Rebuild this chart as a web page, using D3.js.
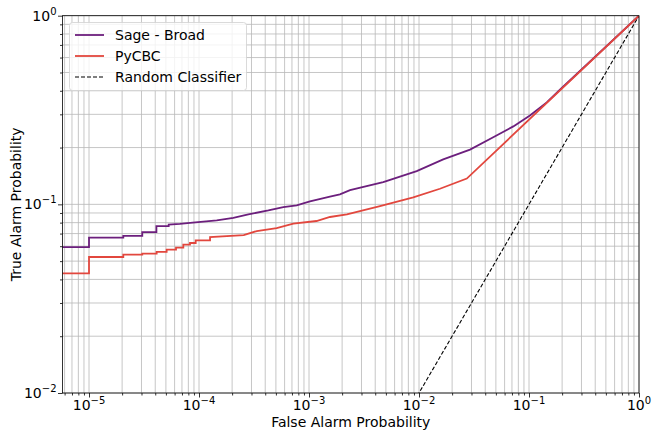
<!DOCTYPE html>
<html><head><meta charset="utf-8">
<script src="https://cdn.jsdelivr.net/npm/d3@7"></script>
<style>body{margin:0;background:#fff} text{font-family:"DejaVu Sans",sans-serif;}</style>
</head><body><svg id="c" width="653" height="430"></svg>
<script>
// ---- data ----
const sageFpr = [5e-6, 1.0e-5, 1.0e-5, 2.05e-5, 2.05e-5, 3.05e-5, 3.05e-5, 4.1e-5, 4.1e-5, 5.3e-5, 5.3e-5, 6.7e-5, 8.3e-5,
  1.45e-4, 2.05e-4, 2.81e-4, 4.27e-4, 5.84e-4, 7.73e-4, 1.02e-3, 1.55e-3, 1.91e-3, 2.36e-3, 4.73e-3, 9.53e-3,
  0.0166, 0.0291, 0.0473, 0.072, 0.102, 0.145, 0.191, 1.0];
const sageTpr = [0.0594, 0.0594, 0.0667, 0.0667, 0.0681, 0.0681, 0.0713, 0.0713, 0.0767, 0.0767, 0.0781, 0.0787, 0.0797,
  0.0822, 0.0847, 0.0885, 0.0929, 0.0968, 0.0988, 0.1037, 0.110, 0.113, 0.119, 0.131, 0.150,
  0.173, 0.195, 0.227, 0.259, 0.296, 0.347, 0.405, 1.0];

const pycbcFpr = [5e-6, 1.0e-5, 1.0e-5, 2.05e-5, 2.05e-5, 3.05e-5, 3.05e-5, 4.12e-5, 4.12e-5, 5.08e-5, 5.08e-5, 6.18e-5, 6.18e-5,
  7.2e-5, 7.2e-5, 8.28e-5, 8.28e-5, 9.33e-5, 9.33e-5, 1.26e-4, 1.26e-4, 2.55e-4, 3.35e-4, 5.08e-4, 7.2e-4, 1.17e-3, 1.55e-3,
  2.21e-3, 4.42e-3, 8.87e-3, 0.0155, 0.0272, 1.0];
const pycbcTpr = [0.0431, 0.0431, 0.0526, 0.0526, 0.0542, 0.0542, 0.0548, 0.0548, 0.0560, 0.0560, 0.0576, 0.0576, 0.0590,
  0.0590, 0.0612, 0.0612, 0.0624, 0.0624, 0.0645, 0.0645, 0.0671, 0.0686, 0.0722, 0.0749, 0.0790, 0.0816, 0.0857,
  0.0885, 0.098, 0.109, 0.121, 0.137, 1.0];

const randomFpr = [1e-6, 1.0];
const randomTpr = [1e-6, 1.0];

const xTickValues = [1e-5, 1e-4, 1e-3, 1e-2, 1e-1, 1e0];
const xTickExps = ["−5", "−4", "−3", "−2", "−1", "0"];
const yTickValues = [1e-2, 1e-1, 1e0];
const yTickExps = ["−2", "−1", "0"];

const seriesNames = ["Sage - Broad", "PyCBC", "Random Classifier"];
const seriesColors = ["#6c1f7d", "#e2473e", "#000000"];

// ---- layout ----
const L = 62.5, R = 639, T = 15.7, B = 393;
const svg = d3.select("#c");
const x = d3.scaleLog().domain([Math.pow(10, -5.241), 1]).range([L, R]);
const y = d3.scaleLog().domain([1e-2, 1]).range([B, T]);

// minor ticks
const xMinor = [], yMinor = [];
for (let e = -6; e < 0; e++) for (let m = 2; m <= 9; m++) { const v = m * Math.pow(10, e); if (v >= x.domain()[0] && v <= 1) xMinor.push(v); }
for (let e = -2; e < 0; e++) for (let m = 2; m <= 9; m++) yMinor.push(m * Math.pow(10, e));

// grid
const g = svg.append("g");
g.selectAll(".gx").data(xMinor.concat(xTickValues)).enter().append("line")
  .attr("x1", d => x(d)).attr("x2", d => x(d)).attr("y1", T).attr("y2", B)
  .attr("stroke", "#b8b8b8").attr("stroke-width", 0.8);
g.selectAll(".gy").data(yMinor.concat(yTickValues)).enter().append("line")
  .attr("y1", d => y(d)).attr("y2", d => y(d)).attr("x1", L).attr("x2", R)
  .attr("stroke", "#b8b8b8").attr("stroke-width", 0.8);

// clip
svg.append("clipPath").attr("id", "clip").append("rect").attr("x", L).attr("y", T).attr("width", R - L).attr("height", B - T);

const line = d3.line().x(d => x(d[0])).y(d => y(d[1]));
const plot = svg.append("g").attr("clip-path", "url(#clip)");
plot.append("path").datum(d3.zip(randomFpr, randomTpr)).attr("d", line)
  .attr("fill", "none").attr("stroke", seriesColors[2]).attr("stroke-width", 1.1).attr("stroke-dasharray", "4,2");
plot.append("path").datum(d3.zip(sageFpr, sageTpr)).attr("d", line)
  .attr("fill", "none").attr("stroke", seriesColors[0]).attr("stroke-width", 1.8);
plot.append("path").datum(d3.zip(pycbcFpr, pycbcTpr)).attr("d", line)
  .attr("fill", "none").attr("stroke", seriesColors[1]).attr("stroke-width", 1.8);

// axes
const xAxis = svg.append("g").attr("transform", `translate(0,${B})`)
  .call(d3.axisBottom(x).tickValues(xTickValues).tickSize(4.5).tickFormat(""));
xAxis.append("g").call(d3.axisBottom(x).tickValues(xMinor).tickSize(2.5).tickFormat(""));
const yAxis = svg.append("g").attr("transform", `translate(${L},0)`)
  .call(d3.axisLeft(y).tickValues(yTickValues).tickSize(4.5).tickFormat(""));
yAxis.append("g").call(d3.axisLeft(y).tickValues(yMinor).tickSize(2.5).tickFormat(""));
svg.selectAll(".domain").attr("stroke", "none");
svg.selectAll(".tick line").attr("stroke", "#000").attr("stroke-width", 0.8);

// frame
svg.append("rect").attr("x", L).attr("y", T).attr("width", R - L).attr("height", B - T)
  .attr("fill", "none").attr("stroke", "#000").attr("stroke-width", 0.8);

// tick labels
xTickValues.forEach((v, i) => {
  const t = svg.append("text").attr("x", x(v)).attr("y", 410).attr("text-anchor", "middle")
    .attr("font-size", 14).attr("fill", "#000");
  t.append("tspan").text("10");
  t.append("tspan").attr("dy", -6).attr("font-size", 10).text(xTickExps[i]);
});
yTickValues.forEach((v, i) => {
  const t = svg.append("text").attr("x", L - 6).attr("y", y(v) + 5).attr("text-anchor", "end")
    .attr("font-size", 14).attr("fill", "#000");
  t.append("tspan").text("10");
  t.append("tspan").attr("dy", -6).attr("font-size", 10).text(yTickExps[i]);
});

// axis labels
svg.append("text").attr("x", (L + R) / 2).attr("y", 427).attr("text-anchor", "middle")
  .attr("font-size", 14).text("False Alarm Probability");
svg.append("text").attr("transform", `translate(21,${(T + B) / 2}) rotate(-90)`).attr("text-anchor", "middle")
  .attr("font-size", 14).text("True Alarm Probability");

// legend
const lg = svg.append("g");
lg.append("rect").attr("x", 69.5).attr("y", 22.5).attr("width", 177).attr("height", 68).attr("rx", 3)
  .attr("fill", "#fff").attr("fill-opacity", 0.8).attr("stroke", "#d0d0d0").attr("stroke-width", 0.8);
seriesNames.forEach((n, i) => {
  const yy = 35 + i * 21;
  lg.append("line").attr("x1", 75).attr("x2", 104).attr("y1", yy).attr("y2", yy)
    .attr("stroke", seriesColors[i]).attr("stroke-width", i === 2 ? 1.1 : 1.8)
    .attr("stroke-dasharray", i === 2 ? "4,2" : null);
  lg.append("text").attr("x", 115).attr("y", yy + 5).attr("font-size", 14).text(n);
});
</script></body></html>
